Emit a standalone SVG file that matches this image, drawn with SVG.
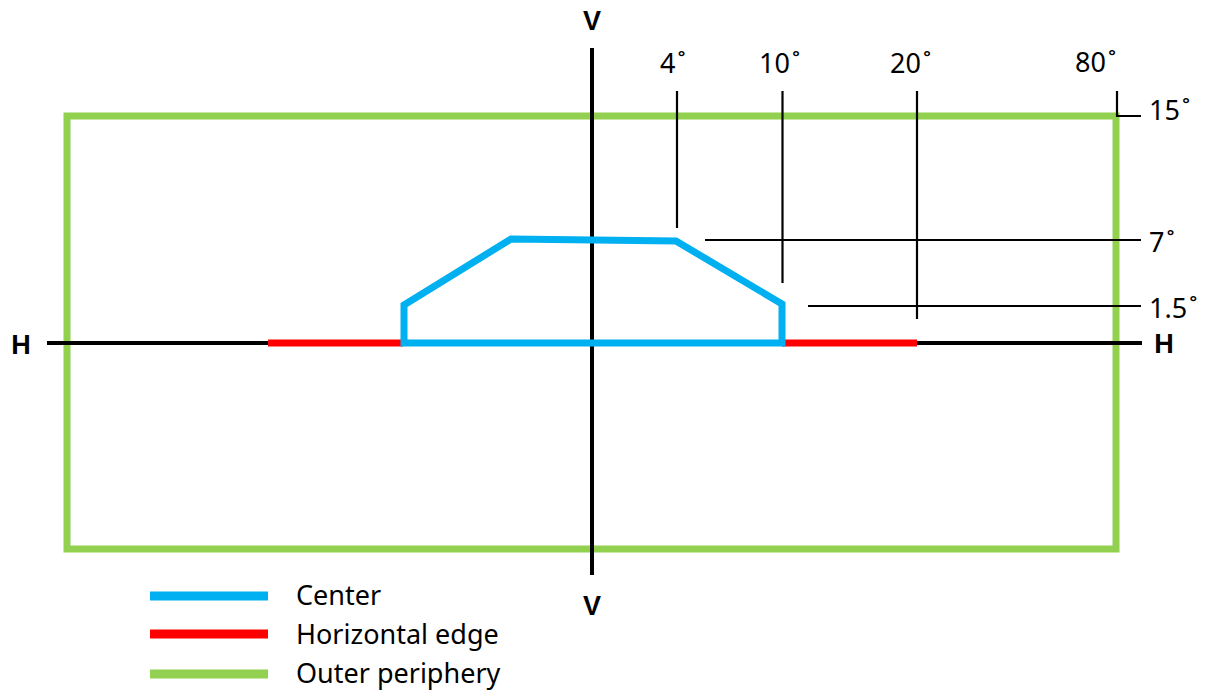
<svg xmlns="http://www.w3.org/2000/svg" width="1208" height="690" viewBox="0 0 1208 690">
<style>
.ax{stroke:#000;stroke-width:4;fill:none}
.thin{stroke:#000;stroke-width:2.2;fill:none}
.blue{stroke:#00B0F0;stroke-width:7;fill:none;stroke-linejoin:miter}
.red{stroke:#FF0000;stroke-width:7;fill:none}
.green{stroke:#92D050;stroke-width:7;fill:none}
.lbl{font-family:"Noto Sans","Liberation Sans",sans-serif;font-size:27px;fill:#000}
.bold{font-family:"Liberation Sans",Arial,sans-serif;font-size:27px;font-weight:bold;fill:#000}
</style>
<rect width="1208" height="690" fill="#fff"/>
<g id="outer-periphery">
<rect class="green" x="67" y="116" width="1049" height="433"/>
</g>
<g id="axes">
<line class="ax" x1="592" y1="48" x2="592" y2="575"/>
<line class="ax" x1="47" y1="343" x2="1142" y2="343"/>
<text class="bold" x="592" y="30" text-anchor="middle">V</text>
<text class="bold" x="592" y="615" text-anchor="middle">V</text>
<text class="bold" x="21" y="354" text-anchor="middle">H</text>
<text class="bold" x="1164" y="353" text-anchor="middle">H</text>
</g>
<g id="horizontal-edge">
<line class="red" x1="268" y1="343" x2="403" y2="343"/>
<line class="red" x1="782" y1="343" x2="917" y2="343"/>
</g>
<g id="center">
<polygon class="blue" points="404,343 404,305 511,239 676,241 782,304 782,343"/>
</g>
<g id="connectors">
<line class="thin" x1="677" y1="91" x2="677" y2="228"/>
<line class="thin" x1="782.5" y1="91" x2="782.5" y2="283"/>
<line class="thin" x1="917" y1="91" x2="917" y2="319"/>
<line class="thin" x1="705" y1="240" x2="1141" y2="240"/>
<line class="thin" x1="808" y1="306" x2="1141" y2="306"/>
<polyline class="thin" points="1117,91 1117,116 1141,116"/>
</g>
<g id="angle-labels">
<text class="lbl" x="660" y="73">4<tspan dx="2">˚</tspan></text>
<text class="lbl" x="759" y="73">10<tspan dx="2">˚</tspan></text>
<text class="lbl" x="890" y="73">20<tspan dx="2">˚</tspan></text>
<text class="lbl" x="1075" y="72">80<tspan dx="2">˚</tspan></text>
<text class="lbl" x="1149" y="120">15<tspan dx="2">˚</tspan></text>
<text class="lbl" x="1149" y="252">7<tspan dx="2">˚</tspan></text>
<text class="lbl" x="1149" y="318">1.5<tspan dx="2">˚</tspan></text>
</g>
<g id="legend">
<line stroke="#00B0F0" stroke-width="9" x1="150" y1="596" x2="268" y2="596"/>
<line stroke="#FF0000" stroke-width="9" x1="150" y1="634" x2="268" y2="634"/>
<line stroke="#92D050" stroke-width="9" x1="150" y1="674" x2="268" y2="674"/>
<text class="lbl" x="296" y="605">Center</text>
<text class="lbl" x="296" y="644">Horizontal edge</text>
<text class="lbl" x="296" y="683">Outer periphery</text>
</g>
</svg>
